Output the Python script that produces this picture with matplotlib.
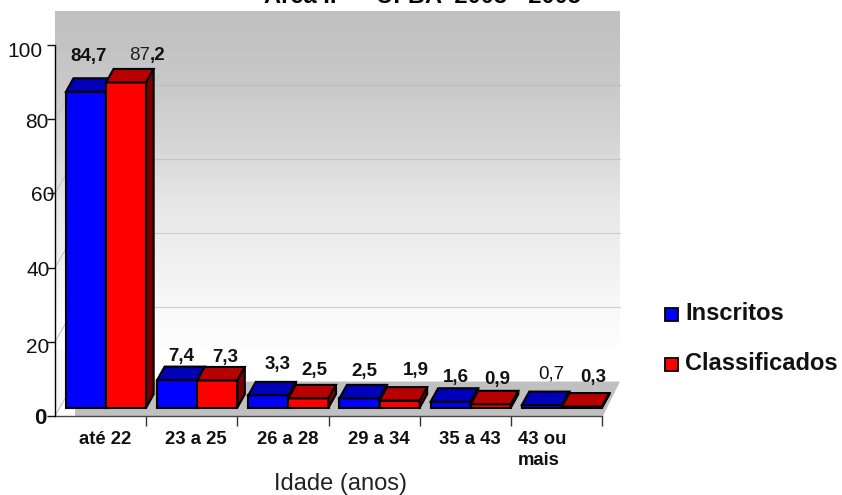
import numpy as np
import matplotlib
matplotlib.use('Agg')
import matplotlib.pyplot as plt
from matplotlib.patches import Polygon, Rectangle

categories = ['até 22', '23 a 25', '26 a 28', '29 a 34', '35 a 43', '43 ou\nmais']
inscritos = [84.7, 7.4, 3.3, 2.5, 1.6, 0.7]
classificados = [87.2, 7.3, 2.5, 1.9, 0.9, 0.3]
inscritos_labels = ['84,7', '7,4', '3,3', '2,5', '1,6', '0,7']
classificados_labels = ['87,2', '7,3', '2,5', '1,9', '0,9', '0,3']
yticks = [0, 20, 40, 60, 80, 100]

W, H = 842, 495
plt.rcParams['font.family'] = ['Liberation Sans', 'DejaVu Sans']

fig = plt.figure(figsize=(W / 100, H / 100), dpi=100)
# axes box is the front plane of the fake 3D chart, 55..602 px and 45..416 px
ax = fig.add_axes([55 / W, 1 - 416 / H, 547 / W, 371 / H])
ax.set_xlim(0, 6)
ax.set_ylim(0, 100)
ax.patch.set_visible(False)
for s in ['top', 'right']:
    ax.spines[s].set_visible(False)

px = 6 / 547       # one pixel in x data units
py = 100 / 371     # one pixel in y data units
depth_x = 7.5 * px
depth_y = 13.5 * py
back_x = 20 * px
back_y = 34.5 * py
base = 8.3 * py
bar_w = 0.44
bar_scale = 3.73 / 3.71

# back wall gradient, 11 px down to 350 px
stops_y = [0, 0.215, 0.435, 0.56, 0.88, 1]
stops_v = [0.75, 0.785, 0.85, 0.90, 0.97, 0.99]
grad = np.interp(np.linspace(0, 1, 64), stops_y, stops_v).reshape(-1, 1)
ax.imshow(grad, cmap='gray', vmin=0, vmax=1, aspect='auto', origin='upper',
          extent=(0, 565 * px, 66 * py, 100 + 34 * py), zorder=0, clip_on=False)
ax.set_xlim(0, 6)
ax.set_ylim(0, 100)

# side wall below the gradient
ax.add_patch(Polygon([(0, 0), (back_x, back_y), (back_x, 66 * py), (0, 66 * py)],
                     closed=True, fc='#f6f6f6', ec='none', zorder=0.5, clip_on=False))

# floor
ax.add_patch(Polygon([(back_x, 0), (548 * px, 0), (565 * px, back_y), (back_x, back_y)],
                     closed=True, fc='#c0c0c0', ec='none', zorder=1, clip_on=False))

# gridlines on the wall and on the side
for t in yticks[1:-1]:
    ax.plot([back_x, 565 * px], [t + back_y, t + back_y], color='#b8b8b8', lw=0.8,
            alpha=0.6, zorder=1, clip_on=False)
for t in yticks[:-1]:
    ax.plot([0, back_x], [t, t + back_y], color='#c4c4c4', lw=0.8, zorder=1, clip_on=False)


def draw_bars(x0, values, front, top, side, z):
    heights = [v * bar_scale for v in values]
    ax.bar(x0, heights, width=bar_w, bottom=base, align='edge', color=front,
           edgecolor='black', linewidth=1.5, zorder=z, clip_on=False)
    for x, v in zip(x0, heights):
        y = base + v
        ax.add_patch(Polygon([(x, y), (x + depth_x, y + depth_y),
                              (x + bar_w + depth_x, y + depth_y), (x + bar_w, y)],
                             closed=True, fc=top, ec='black', lw=1.5, zorder=z, clip_on=False))
        ax.add_patch(Polygon([(x + bar_w, base), (x + bar_w + depth_x, base + depth_y),
                              (x + bar_w + depth_x, y + depth_y), (x + bar_w, y)],
                             closed=True, fc=side, ec='black', lw=1.5, zorder=z, clip_on=False))


x = np.arange(len(categories))
for i in x:
    draw_bars([i + 0.12], [inscritos[i]], '#0000ff', '#0000b8', '#00007a', 3 + 2 * i)
    draw_bars([i + 0.56], [classificados[i]], '#ff0000', '#b80000', '#7a0000', 4 + 2 * i)

# data labels, pixel offsets from the bar centre / top
ins_dx = [3, 4, 9, 5, 5, 9]
ins_dy = [23, 10, 17, 13, 11, 18]
cla_dx = [20, 8, 6, 16, 6, 11]
cla_dy = [15, 10, 14, 17, 11, 16]


def put_label(xc, top, text, dx, dy, weight='bold'):
    ax.annotate(text, (xc, top), xytext=(dx * 0.72, dy * 0.72), textcoords='offset points',
                ha='center', va='center', fontsize=13.5, fontweight=weight, color='#111111',
                zorder=30, annotation_clip=False)


for i in x:
    xc = i + 0.12 + bar_w / 2
    w = 'normal' if i == 5 else 'bold'
    put_label(xc, base + inscritos[i] + depth_y, inscritos_labels[i], ins_dx[i], ins_dy[i], w)
    xc = i + 0.56 + bar_w / 2
    top = base + classificados[i] + depth_y
    if i == 0:
        # this one is half regular, half bold in the original
        head, tail = classificados_labels[i].split(',')
        ax.annotate(head, (xc, top), xytext=(cla_dx[i] * 0.72 + 3, cla_dy[i] * 0.72),
                    textcoords='offset points', ha='right', va='center', fontsize=13.5,
                    color='#222222', zorder=30)
        ax.annotate(',' + tail, (xc, top), xytext=(cla_dx[i] * 0.72 + 3, cla_dy[i] * 0.72),
                    textcoords='offset points', ha='left', va='center', fontsize=13.5,
                    fontweight='bold', color='#111111', zorder=30)
    else:
        put_label(xc, top, classificados_labels[i], cla_dx[i], cla_dy[i])

# axes
ax.spines['left'].set_linewidth(1.0)
ax.spines['bottom'].set_linewidth(1.0)
ax.spines['bottom'].set_color('#444444')
ax.set_yticks(yticks)
ax.set_yticklabels([])
ax.tick_params(axis='y', length=6, width=1, color='#111111')
ax.set_xticks(x + 1)
ax.set_xticklabels([])
ax.tick_params(axis='x', length=7, width=1, color='#333333')
ax.spines['left'].set_zorder(40)

# tick labels are not aligned in the original, each has its own nudge
tick_right = [-8, -6, -5, -1, -6, -12]
tick_down = [3, 6, 3, 2, 3, 7]
for t, dx, dy in zip(yticks, tick_right, tick_down):
    ax.annotate(str(t), (0, t), xytext=(dx * 0.72, -dy * 0.72), textcoords='offset points',
                ha='right', va='center', fontsize=16 if t == 0 else 15,
                fontweight='bold' if t == 0 else 'normal', color='#111111',
                zorder=35, annotation_clip=False)

for i, name in enumerate(categories):
    if '\n' in name:
        ax.annotate(name, (i, 0), xytext=(5.0, -10.7), textcoords='offset points', ha='left',
                    va='top', fontsize=13.3, fontweight='bold', linespacing=1.32,
                    color='#111111', annotation_clip=False)
    else:
        ax.annotate(name, (i + 0.55, 0), xytext=(0, -10.7), textcoords='offset points',
                    ha='center', va='top', fontsize=13.3, fontweight='bold', color='#111111',
                    annotation_clip=False)

fig.text(340 / W, 1 - 484 / H, 'Idade (anos)', ha='center', va='center', fontsize=17, color='#222222')
fig.text(422 / W, 1 - 3 / H, 'Área I.  –  UFBA  2003 - 2005', ha='center', va='baseline',
         fontsize=17, fontweight='bold')

# legend drawn by hand so the swatch sits like the original
for yc, name, col in [(313, 'Inscritos', '#0000ff'), (363, 'Classificados', '#ff0000')]:
    fig.add_artist(Rectangle((665 / W, 1 - (yc + 7.5) / H), 13 / W, 13 / H, fc=col, ec='black',
                             lw=1.3, transform=fig.transFigure))
    fig.text(685.5 / W, 1 - yc / H, name, ha='left', va='center', fontsize=17, fontweight='bold',
             color='#111111')

fig.savefig('out.png', dpi=100)
